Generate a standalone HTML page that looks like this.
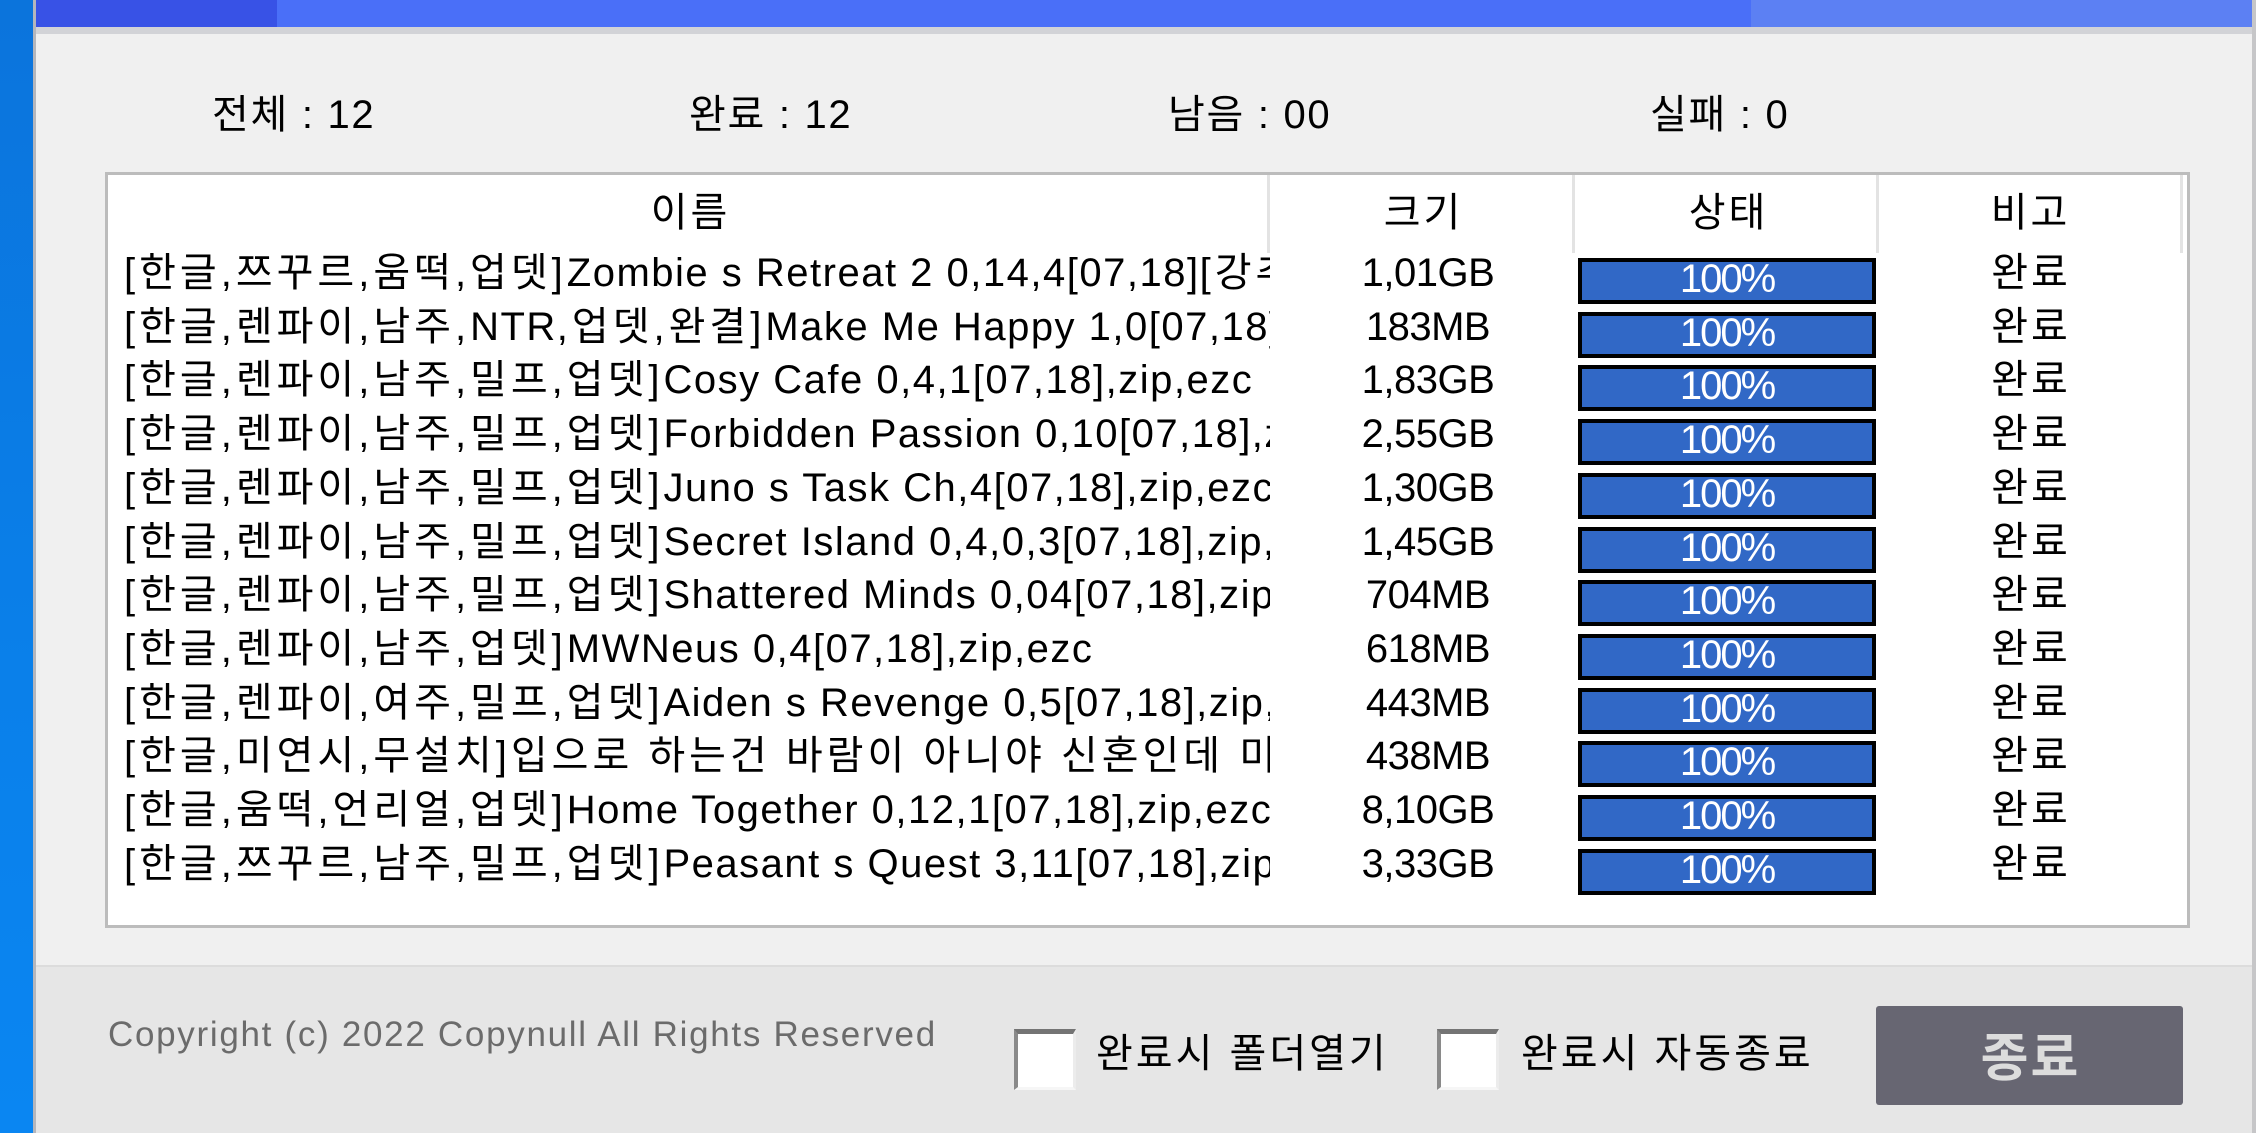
<!DOCTYPE html>
<html>
<head>
<meta charset="utf-8">
<style>
*{margin:0;padding:0;box-sizing:border-box;}
html,body{width:2256px;height:1133px;overflow:hidden;background:#f0f0f0;}
body{position:relative;font-family:"Liberation Sans","Noto Sans CJK KR",sans-serif;color:#000;}
.abs{position:absolute;}
.t{position:absolute;white-space:nowrap;font-size:40px;height:50px;line-height:50px;}
.row{position:absolute;left:0;width:2256px;height:50px;}
.name{position:absolute;left:124px;width:1146px;overflow:hidden;white-space:nowrap;font-size:40px;letter-spacing:1.5px;height:50px;line-height:50px;top:0;}
.name .k{letter-spacing:4px;}
.size{position:absolute;left:1270px;width:316px;text-align:center;font-size:40px;letter-spacing:-0.5px;height:50px;line-height:50px;top:0;white-space:nowrap;}
.bar{position:absolute;left:1578px;top:10px;width:298px;height:46px;border:4px solid #000;background:#3168c6;color:#fff;text-align:center;font-size:40px;line-height:34px;letter-spacing:-2px;}
.st{position:absolute;left:1879px;width:301px;text-align:center;font-size:40px;height:50px;line-height:50px;top:0;letter-spacing:3px;padding-left:3px;}
.hd{position:absolute;top:188px;font-size:40px;height:50px;line-height:50px;text-align:center;letter-spacing:3px;padding-left:3px;}
.div{position:absolute;top:175px;width:3px;height:78px;background:#e3e3e3;}
.cb{position:absolute;top:1029px;width:62px;height:61px;background:#fff;border-top:5px solid #747474;border-left:4px solid #8a8a8a;border-right:3px solid #ececec;border-bottom:3px solid #f6f6f6;}
.stat{letter-spacing:1.7px;}
.lbl{letter-spacing:3px;}
</style>
</head>
<body>
<!-- desktop strip -->
<div class="abs" style="left:0;top:0;width:33px;height:1133px;background:linear-gradient(180deg,#0b74dc,#0a80ea 60%,#0a86f2);"></div>
<!-- window edges -->
<div class="abs" style="left:33px;top:0;width:3px;height:1133px;background:#b4b6bc;"></div>
<div class="abs" style="left:2252px;top:0;width:4px;height:1133px;background:#c6c6c8;"></div>
<!-- title bar -->
<div class="abs" style="left:36px;top:0;width:241px;height:27px;background:#3852e6;"></div>
<div class="abs" style="left:277px;top:0;width:1474px;height:27px;background:#4a6ff8;"></div>
<div class="abs" style="left:1751px;top:0;width:501px;height:27px;background:#5c80f3;"></div>
<div class="abs" style="left:36px;top:27px;width:2216px;height:7px;background:#d2d3d7;"></div>

<!-- stats -->
<div class="t stat" style="left:212px;top:90px;">전체 : 12</div>
<div class="t stat" style="left:689px;top:90px;">완료 : 12</div>
<div class="t stat" style="left:1168px;top:90px;">남음 : 00</div>
<div class="t stat" style="left:1650px;top:90px;">실패 : 0</div>

<!-- list box -->
<div class="abs" style="left:105px;top:172px;width:2085px;height:756px;background:#fff;border:3px solid #bcbcbc;"></div>
<div class="div" style="left:1267px;"></div>
<div class="div" style="left:1572px;"></div>
<div class="div" style="left:1876px;"></div>
<div class="div" style="left:2180px;"></div>

<div class="hd" style="left:589px;width:200px;">이름</div>
<div class="hd" style="left:1322px;width:200px;">크기</div>
<div class="hd" style="left:1627px;width:200px;">상태</div>
<div class="hd" style="left:1929px;width:200px;">비고</div>

<div class="row" style="top:248px;"><div class="name"><span class="k">[한글,쯔꾸르,움떡,업뎃]</span>Zombie s Retreat 2 0,14,4[07,18]<span class="k">[강추]</span></div><div class="size">1,01GB</div><div class="bar">100%</div><div class="st">완료</div></div>
<div class="row" style="top:301.7px;"><div class="name"><span class="k">[한글,렌파이,남주,</span>NTR<span class="k">,업뎃,완결]</span>Make Me Happy 1,0[07,18],zip,ezc</div><div class="size">183MB</div><div class="bar">100%</div><div class="st">완료</div></div>
<div class="row" style="top:355.4px;"><div class="name"><span class="k">[한글,렌파이,남주,밀프,업뎃]</span>Cosy Cafe 0,4,1[07,18],zip,ezc</div><div class="size">1,83GB</div><div class="bar">100%</div><div class="st">완료</div></div>
<div class="row" style="top:409.1px;"><div class="name"><span class="k">[한글,렌파이,남주,밀프,업뎃]</span>Forbidden Passion 0,10[07,18],zip,ezc</div><div class="size">2,55GB</div><div class="bar">100%</div><div class="st">완료</div></div>
<div class="row" style="top:462.8px;"><div class="name"><span class="k">[한글,렌파이,남주,밀프,업뎃]</span>Juno s Task Ch,4[07,18],zip,ezc</div><div class="size">1,30GB</div><div class="bar">100%</div><div class="st">완료</div></div>
<div class="row" style="top:516.5px;"><div class="name"><span class="k">[한글,렌파이,남주,밀프,업뎃]</span>Secret Island 0,4,0,3[07,18],zip,ezc</div><div class="size">1,45GB</div><div class="bar">100%</div><div class="st">완료</div></div>
<div class="row" style="top:570.2px;"><div class="name"><span class="k">[한글,렌파이,남주,밀프,업뎃]</span>Shattered Minds 0,04[07,18],zip,ezc</div><div class="size">704MB</div><div class="bar">100%</div><div class="st">완료</div></div>
<div class="row" style="top:623.9px;"><div class="name"><span class="k">[한글,렌파이,남주,업뎃]</span>MWNeus 0,4[07,18],zip,ezc</div><div class="size">618MB</div><div class="bar">100%</div><div class="st">완료</div></div>
<div class="row" style="top:677.6px;"><div class="name"><span class="k">[한글,렌파이,여주,밀프,업뎃]</span>Aiden s Revenge 0,5[07,18],zip,ezc</div><div class="size">443MB</div><div class="bar">100%</div><div class="st">완료</div></div>
<div class="row" style="top:731.3px;"><div class="name"><span class="k">[한글,미연시,무설치]입으로 하는건 바람이 아니야 신혼인데 미</span></div><div class="size">438MB</div><div class="bar">100%</div><div class="st">완료</div></div>
<div class="row" style="top:785px;"><div class="name"><span class="k">[한글,움떡,언리얼,업뎃]</span>Home Together 0,12,1[07,18],zip,ezc</div><div class="size">8,10GB</div><div class="bar">100%</div><div class="st">완료</div></div>
<div class="row" style="top:838.7px;"><div class="name"><span class="k">[한글,쯔꾸르,남주,밀프,업뎃]</span>Peasant s Quest 3,11[07,18],zip,ezc</div><div class="size">3,33GB</div><div class="bar">100%</div><div class="st">완료</div></div>

<!-- footer -->
<div class="abs" style="left:36px;top:965px;width:2216px;height:2px;background:#dcdcdc;"></div>
<div class="abs" style="left:36px;top:967px;width:2216px;height:166px;background:#e6e6e6;"></div>

<div class="t" style="left:108px;top:1010px;font-size:35px;letter-spacing:1.7px;color:#6b6b6b;">Copyright (c) 2022 Copynull All Rights Reserved</div>

<div class="cb" style="left:1014px;"></div>
<div class="t lbl" style="left:1096px;top:1029px;">완료시 폴더열기</div>
<div class="cb" style="left:1437px;"></div>
<div class="t lbl" style="left:1521px;top:1029px;">완료시 자동종료</div>

<div class="abs" style="left:1876px;top:1006px;width:307px;height:99px;background:#676672;border-radius:3px;color:#dcdcdc;text-align:center;font-size:52px;font-weight:bold;line-height:99px;padding-top:4px;padding-left:2px;letter-spacing:2px;">종료</div>
</body>
</html>
